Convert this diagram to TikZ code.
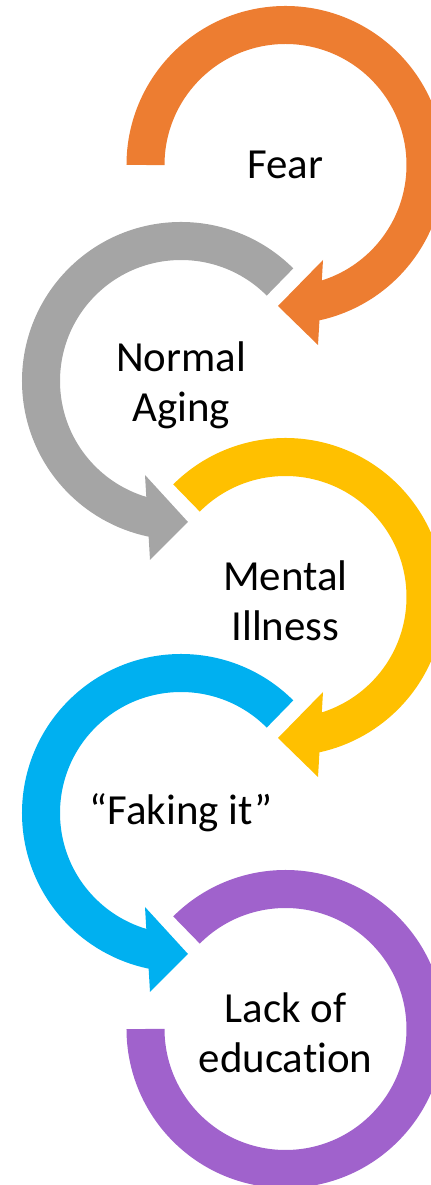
\documentclass[tikz,border=0pt]{standalone}
\usepackage{fontspec}
\setmainfont{Carlito}[Ligatures=NoCommon]
\usepackage{tikz}
\definecolor{fearcol}{HTML}{ED7D31}
\definecolor{agingcol}{HTML}{A5A5A5}
\definecolor{mentalcol}{HTML}{FFC000}
\definecolor{fakingcol}{HTML}{00B0F0}
\definecolor{educol}{HTML}{A062CC}
\tikzset{ring/.style={line width=0.95cm}}
\tikzset{lbl/.style={align=center,font=\fontsize{30.5}{35.5}\selectfont}}

\begin{document}
\begin{tikzpicture}[x=0.025cm,y=0.025cm]
                    \useasboundingbox (0,0) rectangle (431,1185);

                    \coordinate (c1) at (285.5,1020);
                    \coordinate (c2) at (181,804);
                    \coordinate (c3) at (285.5,588);
                    \coordinate (c4) at (181,372);
                    \coordinate (c5) at (285.5,156);

                    \draw[ring, fearcol] (c1) ++(180:140) arc[start angle=180, end angle=-80, radius=140];
                    \fill[fearcol] (c1) ++(-7.5,-141) -- ++(45,46) -- ++(-5,-85) -- cycle;

                    \draw[ring, agingcol] (c2) ++(45:140) arc[start angle=45, end angle=260, radius=140];
                    \fill[agingcol] (c2) ++(7,-141) -- ++(-43,47) -- ++(5,-85) -- cycle;

                    \draw[ring, mentalcol] (c3) ++(135:140) arc[start angle=135, end angle=-80, radius=140];
                    \fill[mentalcol] (c3) ++(-7.5,-141) -- ++(45,46) -- ++(-5,-85) -- cycle;

                    \draw[ring, fakingcol] (c4) ++(45:140) arc[start angle=45, end angle=260, radius=140];
                    \fill[fakingcol] (c4) ++(7,-141) -- ++(-43,47) -- ++(5,-85) -- cycle;

                    \draw[ring, educol] (c5) ++(135:140) arc[start angle=135, end angle=-180, radius=140];

                    \node[lbl] (fear) at (c1) {Fear};
                    \node[lbl] (aging) at ([yshift=-3]c2) {Normal\\Aging};
                    \node[lbl] (mental) at ([yshift=-3]c3) {Mental\\Illness};
                    \node[lbl] (faking) at (c4) {“Faking it”};
                    \node[lbl] (edu) at ([yshift=-3]c5) {Lack of\\education};
                \end{tikzpicture}
\end{document}
